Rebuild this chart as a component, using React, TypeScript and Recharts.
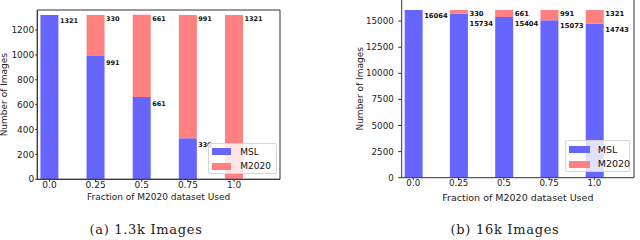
import React from "react";
import { BarChart, Bar, XAxis, YAxis, Legend, LabelList, Label, ReferenceArea, ReferenceLine } from "recharts";

// ---- data ----
const fractions = [0, 0.25, 0.5, 0.75, 1.0];
const fractionLabels = ["0.0", "0.25", "0.5", "0.75", "1.0"];
const msl13k = [1321, 991, 661, 330, 0];
const m2020_13k = [0, 330, 661, 991, 1321];
const msl16k = [16064, 15734, 15404, 15073, 14743];
const m2020_16k = [0, 330, 661, 991, 1321];
const yTicks13k = [0, 200, 400, 600, 800, 1000, 1200];
const yTicks16k = [0, 2500, 5000, 7500, 10000, 12500, 15000];
const seriesNames = ["MSL", "M2020"];
const xTitle = "Fraction of M2020 dataset Used";
const yTitle = "Number of Images";
const captions = ["(a) 1.3k Images", "(b) 16k Images"];

const BLUE = "#6666ff";
const RED = "#ff8080";
const AXIS = "#333";
const FONT = "DejaVu Sans";

const buildRows = (msl: number[], m2020: number[]) =>
  fractions.map((f, i) => ({ f, msl: msl[i], m2020: m2020[i] }));

const rows13k = buildRows(msl13k, m2020_13k);
const rows16k = buildRows(msl16k, m2020_16k);

const makeLabel =
  (fontSize: number, offset: number, above: number[] | null) =>
  (props: any) => {
    const { x, y, width, height, value, index } = props;
    if (!value) return null;
    let cy = y + offset;
    if (above && above[index] > 0 && height > 0) {
      const pxPerUnit = height / value;
      const stackTop = y - above[index] * pxPerUnit;
      cy = Math.max(cy, stackTop + 4 + 10);
    }
    return (
      <text
        x={x + width + 1.5}
        y={cy}
        dominantBaseline="central"
        fontSize={fontSize}
        fontWeight="bold"
        fontFamily={FONT}
        fill="#111"
      >
        {value}
      </text>
    );
  };

const makeLegend =
  (fontSize: number, patchW: number, textLeft: number, rowTops: number[]) =>
  (props: any) => {
    const payload = [...(props.payload || [])].sort(
      (a: any, b: any) => seriesNames.indexOf(a.value) - seriesNames.indexOf(b.value)
    );
    return (
      <div
        style={{
          position: "relative",
          width: "100%",
          height: "100%",
          boxSizing: "border-box",
          background: "rgba(255,255,255,0.8)",
          border: "1px solid #d6d6d6",
          borderRadius: 2,
          fontFamily: FONT,
        }}
      >
        {payload.map((p: any, i: number) => (
          <div key={i}>
            <div
              style={{
                position: "absolute",
                left: 3,
                top: rowTops[i] - 3.5,
                width: patchW,
                height: 7,
                background: p.color,
              }}
            />
            <div
              style={{
                position: "absolute",
                left: textLeft,
                top: rowTops[i] - fontSize * 0.6,
                fontSize,
                lineHeight: `${fontSize * 1.2}px`,
                color: "#111",
                whiteSpace: "nowrap",
              }}
            >
              {p.value}
            </div>
          </div>
        ))}
      </div>
    );
  };

const yTitleRenderer = (cx: number) => (props: any) => {
  const vb = props.viewBox;
  const cy = vb.y + vb.height / 2;
  return (
    <text
      x={cx}
      y={cy}
      transform={`rotate(-90 ${cx} ${cy})`}
      textAnchor="middle"
      dominantBaseline="central"
      fontSize={9}
      fontFamily={FONT}
      fill="#222"
    >
      {yTitle}
    </text>
  );
};

const xTitleRenderer = (cyAbs: number, fontSize: number) => (props: any) => {
  const vb = props.viewBox;
  return (
    <text
      x={vb.x + vb.width / 2}
      y={cyAbs}
      textAnchor="middle"
      dominantBaseline="central"
      fontSize={fontSize}
      fontFamily={FONT}
      fill="#222"
    >
      {xTitle}
    </text>
  );
};

const fmtX = (v: number) => fractionLabels[fractions.indexOf(v)] ?? String(v);

function ChartA() {
  const domX: [number, number] = [-0.066, 1.249];
  const domY: [number, number] = [0, 1361];
  return (
    <BarChart
      width={300}
      height={210}
      data={rows13k}
      margin={{ top: 10, right: 20, bottom: 10.7, left: 0 }}
    >
      <XAxis
        dataKey="f"
        type="number"
        domain={domX}
        allowDataOverflow
        ticks={fractions}
        tickFormatter={fmtX}
        height={20}
        tickSize={2.5}
        tickMargin={0}
        axisLine={{ stroke: AXIS }}
        tickLine={{ stroke: AXIS }}
        tick={{ fill: "#222", fontSize: 9, fontFamily: FONT }}
        interval={0}
      >
        <Label content={xTitleRenderer(197, 9)} />
      </XAxis>
      <YAxis
        type="number"
        domain={domY}
        allowDataOverflow
        ticks={yTicks13k}
        width={37.3}
        tickSize={2}
        tickMargin={1}
        axisLine={{ stroke: AXIS }}
        tickLine={{ stroke: AXIS }}
        tick={{ fill: "#222", fontSize: 9, fontFamily: FONT }}
        interval={0}
      >
        <Label content={yTitleRenderer(4)} />
      </YAxis>
      <Bar dataKey="msl" name={seriesNames[0]} stackId="s" fill={BLUE} barSize={18} isAnimationActive={false}>
        <LabelList dataKey="msl" content={makeLabel(6.5, 6.5, m2020_13k)} />
      </Bar>
      <Bar dataKey="m2020" name={seriesNames[1]} stackId="s" fill={RED} barSize={18} isAnimationActive={false}>
        <LabelList dataKey="m2020" content={makeLabel(6.5, 4.5, null)} />
      </Bar>
      <ReferenceArea
        x1={domX[0]}
        x2={domX[1]}
        y1={domY[0]}
        y2={domY[1]}
        fill="none"
        fillOpacity={0}
        stroke={AXIS}
        strokeWidth={1}
        ifOverflow="visible"
      />
      <Legend
        layout="vertical"
        align="center"
        verticalAlign="middle"
        wrapperStyle={{ left: 208.3, top: 142.7, width: 68.4, height: 31.6 }}
        content={makeLegend(9, 19, 31, [8.3, 22.5])}
      />
    </BarChart>
  );
}

function ChartB() {
  const domX: [number, number] = [-0.064, 1.219];
  const domY: [number, number] = [0, 17021];
  return (
    <BarChart
      width={320}
      height={210}
      data={rows16k}
      margin={{ top: 0, right: 6, bottom: 12.3, left: 0 }}
    >
      <XAxis
        dataKey="f"
        type="number"
        domain={domX}
        allowDataOverflow
        ticks={fractions}
        tickFormatter={fmtX}
        height={20}
        tickSize={2.5}
        tickMargin={0}
        axisLine={{ stroke: AXIS }}
        tickLine={{ stroke: AXIS }}
        tick={{ fill: "#222", fontSize: 8.7, fontFamily: FONT }}
        interval={0}
      >
        <Label content={xTitleRenderer(197, 9.5)} />
      </XAxis>
      <YAxis
        type="number"
        domain={domY}
        allowDataOverflow
        ticks={yTicks16k}
        width={81.7}
        tickSize={3.5}
        tickMargin={4.5}
        axisLine={{ stroke: AXIS }}
        tickLine={{ stroke: AXIS }}
        tick={{ fill: "#222", fontSize: 8.7, fontFamily: FONT }}
        interval={0}
      >
        <Label content={yTitleRenderer(40)} />
      </YAxis>
      <Bar dataKey="msl" name={seriesNames[0]} stackId="s" fill={BLUE} barSize={18} isAnimationActive={false}>
        <LabelList dataKey="msl" content={makeLabel(6.8, 6, m2020_16k)} />
      </Bar>
      <Bar dataKey="m2020" name={seriesNames[1]} stackId="s" fill={RED} barSize={18} isAnimationActive={false}>
        <LabelList dataKey="m2020" content={makeLabel(6.8, 4, null)} />
      </Bar>
      <ReferenceLine x={domX[1]} stroke={AXIS} strokeWidth={1} ifOverflow="visible" />
      <Legend
        layout="vertical"
        align="center"
        verticalAlign="middle"
        wrapperStyle={{ left: 245, top: 140, width: 65, height: 31.7 }}
        content={makeLegend(9.5, 20.7, 31.7, [8.5, 23])}
      />
    </BarChart>
  );
}

const captionStyle: React.CSSProperties = {
  position: "absolute",
  top: 222,
  fontFamily: "DejaVu Serif",
  fontSize: 13,
  letterSpacing: 0.7,
  color: "#222",
  whiteSpace: "nowrap",
  transform: "translateX(-50%)",
  lineHeight: "16px",
};

export default function App() {
  return (
    <div
      style={{
        position: "absolute",
        left: 0,
        top: 0,
        width: 640,
        height: 240,
        background: "#fff",
        overflow: "hidden",
      }}
    >
      <div style={{ position: "absolute", left: 0, top: 0 }}>
        <ChartA />
      </div>
      <div style={{ position: "absolute", left: 320, top: 0 }}>
        <ChartB />
      </div>
      <div style={{ ...captionStyle, left: 146 }}>{captions[0]}</div>
      <div style={{ ...captionStyle, left: 505 }}>{captions[1]}</div>
    </div>
  );
}
